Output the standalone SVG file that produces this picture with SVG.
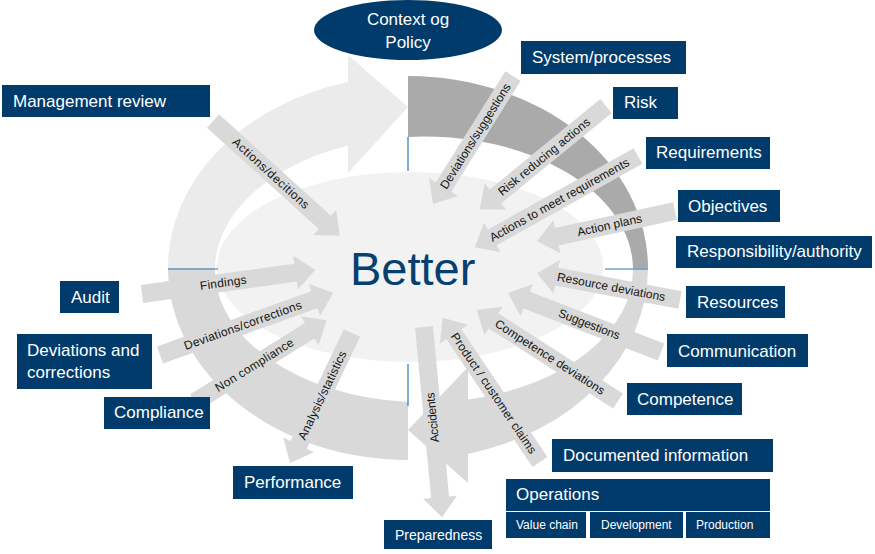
<svg xmlns="http://www.w3.org/2000/svg" width="875" height="554" viewBox="0 0 875 554">
<style>
.box{fill:#003b6c}
.bt{font-family:"Liberation Sans",Arial,sans-serif;font-size:17px;fill:#ffffff}
.st{font-family:"Liberation Sans",Arial,sans-serif;font-size:12px;fill:#ffffff}
.arr{fill:#d9d9d9}
.lbl{font-family:"Liberation Sans",Arial,sans-serif;font-size:12px;fill:#141414;text-anchor:middle;dominant-baseline:central}
.bl{stroke:#2e75b6;stroke-width:1.2;fill:none}
</style>
<rect width="875" height="554" fill="#ffffff"/>
<g id="cycle">
<path fill="#ebebeb" d="M168,268 A240,192 0 0 1 348,82.1 L348,55 L408,107 L348,173 L348,145.6 A209,133 0 0 0 215,268 Z"/>
<path fill="#aaaaaa" d="M408,76 A240,192 0 0 1 648,268 L633,268 A209,133 0 0 0 408,136.9 Z"/>
<path fill="#d9d9d9" d="M648,268 A240,192 0 0 1 468,453.9 L468,483 L408,430 L468,367 L468,399.5 A209,133 0 0 0 633,268 Z"/>
<path fill="#d9d9d9" d="M408,460 A240,192 0 0 1 168,268 L215,268 A209,133 0 0 0 408,402.1 Z"/>
<ellipse cx="410" cy="267" rx="193" ry="95" fill="#f2f2f2"/>
<line class="bl" x1="168" y1="269" x2="218" y2="269"/>
<line class="bl" x1="605" y1="269" x2="648" y2="269"/>
<line class="bl" x1="408" y1="137" x2="408" y2="171"/>
<line class="bl" x1="408" y1="364" x2="408" y2="406"/>
</g>
<g id="center">
<text x="350" y="285" font-family="Liberation Sans,Arial,sans-serif" font-size="47" fill="#063f70">Better</text>
</g>
<g id="connectors">
<g transform="translate(213,121) rotate(42.2)"><path class="arr" d="M0,-9H151V-17L171,0L151,17V9H0Z"/><text class="lbl" x="78" y="0" textLength="99">Actions/decitions</text></g>
<g transform="translate(513,76) rotate(122)"><path class="arr" d="M0,-9H131V-17L151,0L131,17V9H0Z"/><text class="lbl" x="71" y="0" transform="rotate(180 71 0)" textLength="122">Deviations/suggestions</text></g>
<g transform="translate(606,106) rotate(140.7)"><path class="arr" d="M0,-9H143V-17L163,0L143,17V9H0Z"/><text class="lbl" x="80" y="0" transform="rotate(180 80 0)" textLength="115">Risk reducing actions</text></g>
<g transform="translate(638,156) rotate(150.8)"><path class="arr" d="M0,-9H167V-17L187,0L167,17V9H0Z"/><text class="lbl" x="90" y="0" transform="rotate(180 90 0)" textLength="158">Actions to meet  requirements</text></g>
<g transform="translate(675,211) rotate(167.7)"><path class="arr" d="M0,-9H121V-17L141,0L121,17V9H0Z"/><text class="lbl" x="67" y="0" transform="rotate(180 67 0)" textLength="66">Action plans</text></g>
<g transform="translate(680,300) rotate(190.7)"><path class="arr" d="M0,-9H125.5V-17L145.5,0L125.5,17V9H0Z"/><text class="lbl" x="70" y="0" transform="rotate(180 70 0)" textLength="110">Resource deviations</text></g>
<g transform="translate(661,352) rotate(201.1)"><path class="arr" d="M0,-9H144V-17L164,0L144,17V9H0Z"/><text class="lbl" x="77" y="0" transform="rotate(180 77 0)" textLength="65">Suggestions</text></g>
<g transform="translate(618,401) rotate(212.8)"><path class="arr" d="M0,-9H148V-17L168,0L148,17V9H0Z"/><text class="lbl" x="81" y="0" transform="rotate(180 81 0)" textLength="128">Competence  deviations</text></g>
<g transform="translate(540,462) rotate(236)"><path class="arr" d="M0,-9H154V-17L174,0L154,17V9H0Z"/><text class="lbl" x="83" y="0" transform="rotate(180 83 0)" textLength="143">Product / customer claims</text></g>
<g transform="translate(424,327) rotate(84.6)"><path class="arr" d="M0,-9H171V-17L191,0L171,17V9H0Z"/><text class="lbl" x="91" y="0" transform="rotate(180 91 0)" textLength="50">Accidents</text></g>
<g transform="translate(352,333) rotate(115.5)"><path class="arr" d="M0,-9H124V-17L144,0L124,17V9H0Z"/><text class="lbl" x="69" y="0" transform="rotate(180 69 0)" textLength="97">Analysis/statistics</text></g>
<g transform="translate(195,402) rotate(-31.85)"><path class="arr" d="M0,-9H135V-17L155,0L135,17V9H0Z"/><text class="lbl" x="70" y="0" textLength="90">Non compliance</text></g>
<g transform="translate(160,355) rotate(-19.7)"><path class="arr" d="M0,-9H164V-17L184,0L164,17V9H0Z"/><text class="lbl" x="88" y="0" textLength="124">Deviations/corrections</text></g>
<g transform="translate(142,294) rotate(-7.9)"><path class="arr" d="M0,-9H155V-17L175,0L155,17V9H0Z"/><text class="lbl" x="82" y="0" textLength="47">Findings</text></g>
</g>
<g id="context"><ellipse cx="408" cy="30" rx="94" ry="30" class="box"/><text class="bt" x="408" y="25" text-anchor="middle">Context og</text><text class="bt" x="408" y="48" text-anchor="middle">Policy</text></g>
<g id="management-review"><rect class="box" x="2" y="85" width="208" height="32"/><text class="bt" x="13" y="107">Management review</text></g>
<g id="system-processes"><rect class="box" x="521" y="41" width="165" height="33"/><text class="bt" x="532" y="63">System/processes</text></g>
<g id="risk"><rect class="box" x="613" y="87" width="65" height="32"/><text class="bt" x="624" y="108">Risk</text></g>
<g id="requirements"><rect class="box" x="646" y="137" width="124" height="32"/><text class="bt" x="656" y="158">Requirements</text></g>
<g id="objectives"><rect class="box" x="678" y="190" width="102" height="32"/><text class="bt" x="688" y="212">Objectives</text></g>
<g id="responsibility"><rect class="box" x="676" y="236" width="196" height="32"/><text class="bt" x="687" y="257">Responsibility/authority</text></g>
<g id="resources"><rect class="box" x="686" y="286" width="99" height="32"/><text class="bt" x="697" y="308">Resources</text></g>
<g id="communication"><rect class="box" x="667" y="334" width="141" height="33"/><text class="bt" x="678" y="357">Communication</text></g>
<g id="competence"><rect class="box" x="627" y="383" width="115" height="32"/><text class="bt" x="637" y="405">Competence</text></g>
<g id="documented-information"><rect class="box" x="552" y="439" width="221" height="33"/><text class="bt" x="563" y="461">Documented information</text></g>
<g id="operations"><rect class="box" x="506" y="479" width="264" height="32"/><text class="bt" x="516" y="500">Operations</text>
<rect class="box" x="506" y="512" width="80" height="26"/><text class="st" x="516" y="529">Value chain</text>
<rect class="box" x="590" y="512" width="93" height="26"/><text class="st" x="601" y="529">Development</text>
<rect class="box" x="686" y="512" width="84" height="26"/><text class="st" x="696" y="529">Production</text></g>
<g id="preparedness"><rect class="box" x="384" y="520" width="108" height="29"/><text class="bt" x="395" y="540" style="font-size:14px">Preparedness</text></g>
<g id="performance"><rect class="box" x="233" y="466" width="120" height="33"/><text class="bt" x="244" y="488">Performance</text></g>
<g id="compliance"><rect class="box" x="104" y="397" width="106" height="32"/><text class="bt" x="114" y="418">Compliance</text></g>
<g id="deviations-corrections"><rect class="box" x="17" y="334" width="135" height="55"/><text class="bt" x="27" y="356">Deviations and</text><text class="bt" x="27" y="378">corrections</text></g>
<g id="audit"><rect class="box" x="60" y="281" width="59" height="32"/><text class="bt" x="71" y="303">Audit</text></g>
</svg>
